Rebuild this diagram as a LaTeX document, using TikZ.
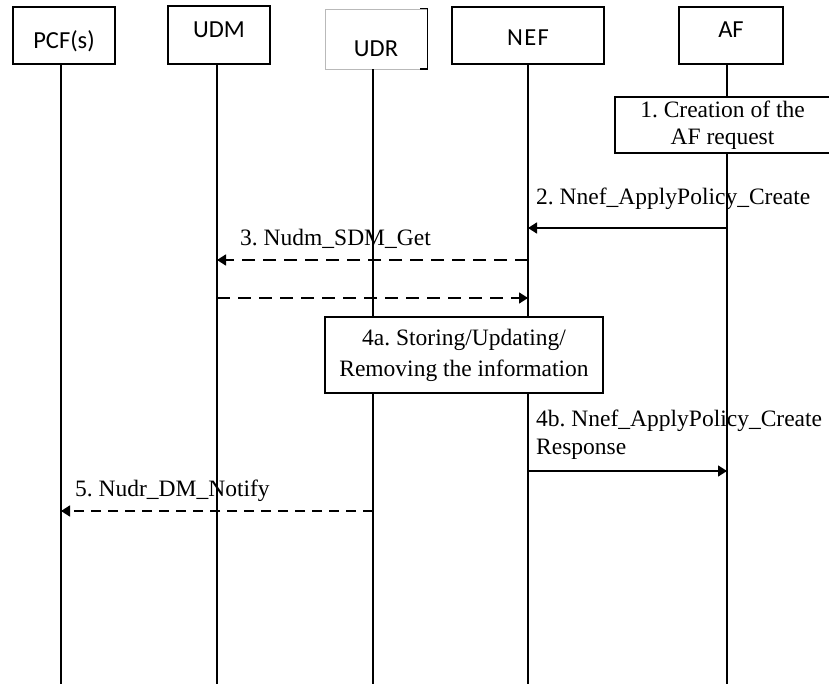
\documentclass[tikz,border=0pt]{standalone}
\usepackage{fontspec}
\setmainfont{Liberation Serif}
\newfontfamily\headfont{Carlito}
\usetikzlibrary{arrows.meta,positioning}
\frenchspacing
\tikzset{
  head/.style     = {draw, line width=1.6pt, fill=white, inner sep=0pt,
                     minimum height=57pt},
  headtxt/.style  = {font=\headfont\fontsize{24.5}{28}\selectfont, inner sep=0pt},
  life/.style     = {line width=1.6pt},
  stepbox/.style  = {draw, line width=1.6pt, fill=white, align=center,
                     inner sep=0pt},
  msg/.style      = {-{Triangle[length=9pt,width=11pt]}, line width=1.6pt},
  dmsg/.style     = {msg, dash pattern=on 13pt off 8pt},
  msgtxt/.style   = {anchor=base west, inner sep=0pt, align=left},
}

\begin{document}
\begin{tikzpicture}[x=1pt,y=-1pt,
    every node/.style={font=\fontsize{23.5}{28}\selectfont}]
  \useasboundingbox[fill=white] (0,0) rectangle (829,684);

  % ---- network functions -------------------------------------------------
  \node[head, minimum width=102pt] (pcf) at (64,35.5)
    {}; \node[headtxt] at (64,41) {PCF(s)};
  \node[head, minimum width=102pt, minimum height=58pt] (udm) at (219,35)
    {}; \node[headtxt] at (219,30) {UDM};
  \node[head, draw=gray!55, line width=0.6pt, minimum width=102pt,
        minimum height=60pt] (udr) at (376,39)
    {}; \node[headtxt] at (376,49) {UDR};
  \draw[line width=1.6pt] (udr.north east) ++(-7,0) -| (udr.south east) -- ++(-7,0);
  \node[head, minimum width=152pt] (nef) at (528,35.5)
    {}; \node[headtxt] at (528,37.5) {\addfontfeature{LetterSpace=6}NEF};
  \node[head, minimum width=104pt] (af) at (731,35.5)
    {}; \node[headtxt] at (731,30) {AF};

  % ---- lifelines ---------------------------------------------------------
  \coordinate (pcf-end) at (61,684);
  \coordinate (udm-end) at (217,684);
  \coordinate (udr-end) at (373,684);
  \coordinate (nef-end) at (528,684);
  \coordinate (af-end)  at (727,684);
  \foreach \n in {pcf,udm,udr,nef,af}
    \draw[life] (\n-end |- \n.south) -- (\n-end);

  % ---- steps -------------------------------------------------------------
  \node[stepbox, minimum width=215pt, minimum height=56pt,
        font=\fontsize{23.5}{27}\selectfont] (s1) at (722.5,125)
    {1. Creation of the\\AF request};
  \node[stepbox, minimum width=278pt, minimum height=76pt,
        font=\fontsize{23.5}{31}\selectfont] (s4a) at (464,355)
    {4a. Storing/Updating/\\Removing the information};

  % ---- messages ----------------------------------------------------------
  \coordinate (y2) at (0,228);
  \coordinate (y3) at (0,260);
  \coordinate (y3b) at (0,298);
  \coordinate (y4) at (0,471);
  \coordinate (y5) at (0,511);

  \draw[msg] (af-end |- y2) -- (nef-end |- y2);
  \node[msgtxt] (l2) at (536,205) {2. Nnef\_ApplyPolicy\_Create};

  \draw[dmsg] (nef-end |- y3) -- (udm-end |- y3);
  \node[msgtxt] (l3) at (240,246) {3. Nudm\_SDM\_Get};

  \draw[dmsg] (udm-end |- y3b) -- (nef-end |- y3b);

  \draw[msg] (nef-end |- y4) -- (af-end |- y4);
  \node[msgtxt] (l4) at (536,454) {4b. Nnef\_ApplyPolicy\_Create\\Response};

  \draw[dmsg, dash pattern=on 10pt off 7pt] (udr-end |- y5) -- (pcf-end |- y5);
  \node[msgtxt] (l5) at (75,496) {5. Nudr\_DM\_Notify};
\end{tikzpicture}
\end{document}
